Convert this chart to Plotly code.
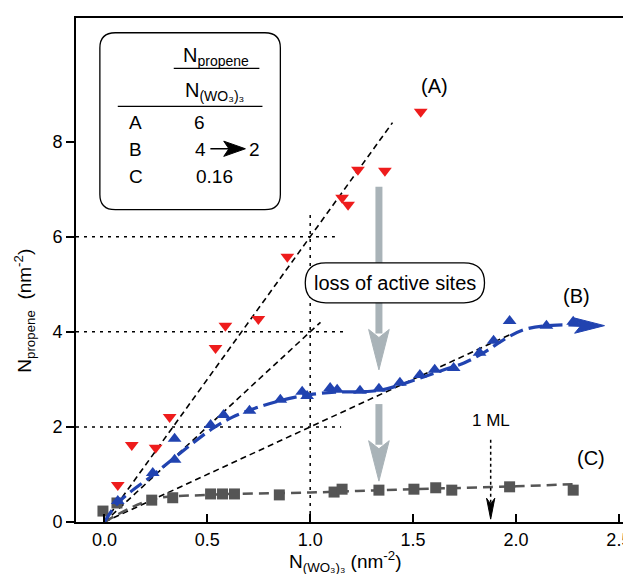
import plotly.graph_objects as go

# ---------------- data ----------------
A_x = [0.065, 0.133, 0.249, 0.317, 0.540, 0.588, 0.748, 0.889, 1.155, 1.184, 1.232, 1.363, 1.537]
A_y = [0.78, 1.62, 1.56, 2.21, 3.66, 4.13, 4.27, 5.58, 6.82, 6.67, 7.41, 7.39, 8.63]

B_x = [0.065, 0.235, 0.341, 0.341, 0.516, 0.579, 0.705, 0.855, 0.961, 0.985, 1.097, 1.131,
       1.242, 1.334, 1.436, 1.533, 1.605, 1.697, 1.823, 1.891, 1.969, 2.148, 2.278]
B_y = [0.44, 1.03, 1.31, 1.75, 2.04, 2.25, 2.34, 2.57, 2.74, 2.65, 2.82, 2.78,
       2.76, 2.80, 2.93, 3.09, 3.20, 3.24, 3.56, 3.81, 4.23, 4.13, 4.21]

C_x = [-0.007, 0.061, 0.230, 0.332, 0.516, 0.574, 0.632, 0.850, 1.116, 1.155, 1.334,
       1.504, 1.610, 1.688, 1.969, 2.278]
C_y = [0.23, 0.40, 0.46, 0.51, 0.59, 0.59, 0.59, 0.57, 0.63, 0.69, 0.67,
       0.69, 0.72, 0.67, 0.74, 0.67]

# guide curves (hand-drawn fits in the original)
B_fit_x = [0, 0.07, 0.24, 0.36, 0.52, 0.62, 0.75, 0.9, 1.0, 1.12, 1.25, 1.35, 1.45, 1.55,
           1.65, 1.75, 1.85, 1.95, 2.05, 2.2, 2.36]
B_fit_y = [0, 0.42, 1.0, 1.42, 1.95, 2.2, 2.42, 2.6, 2.68, 2.73, 2.74, 2.78, 2.9, 3.05,
           3.2, 3.35, 3.58, 3.86, 4.06, 4.14, 4.13]
C_fit_x = [0, 0.23, 0.5, 1.0, 1.5, 2.0, 2.3]
C_fit_y = [0, 0.47, 0.57, 0.62, 0.69, 0.75, 0.80]

# slope lines (N_propene / N_(WO3)3)
slopes = [6, 4, 2]
slope_x_end = [1.40, 1.05, 1.98]

# reference dotted lines
ref_y = [2, 4, 6]
ref_y_xend = [1.15, 1.18, 1.12]
ref_x = 1.0
ref_x_ytop = 6.55

x_ticks = [0.0, 0.5, 1.0, 1.5, 2.0, 2.5]
y_ticks = [0, 2, 4, 6, 8]

ML_x = 1.877
loss_x = 1.334

FONT = "Liberation Sans, Arial, sans-serif"
BLUE = "#2143b0"
RED = "#ee1c1c"
GRAY = "#555555"
LGRAY = "#a9b3b8"

fig = go.Figure()

# slope lines
for s, xe in zip(slopes, slope_x_end):
    fig.add_trace(go.Scatter(x=[0, xe], y=[0, s * xe], mode="lines",
                             line=dict(color="black", width=1.6, dash="6px,4px"),
                             hoverinfo="skip", showlegend=False))
# dotted reference lines
for yv, xe in zip(ref_y, ref_y_xend):
    fig.add_trace(go.Scatter(x=[-0.138, xe], y=[yv, yv], mode="lines",
                             line=dict(color="black", width=1.5, dash="3px,5px"),
                             hoverinfo="skip", showlegend=False))
fig.add_trace(go.Scatter(x=[ref_x, ref_x], y=[0, ref_x_ytop], mode="lines",
                         line=dict(color="black", width=1.5, dash="3px,5px"),
                         hoverinfo="skip", showlegend=False))

# C fit + points
fig.add_trace(go.Scatter(x=C_fit_x, y=C_fit_y, mode="lines", line_shape="spline",
                         line=dict(color=GRAY, width=2.5, dash="10px,6px"),
                         hoverinfo="skip", showlegend=False))
fig.add_trace(go.Scatter(x=C_x, y=C_y, mode="markers",
                         marker=dict(symbol="square", size=11, color=GRAY),
                         showlegend=False))
# B fit + points
fig.add_trace(go.Scatter(x=B_fit_x, y=B_fit_y, mode="lines", line_shape="spline",
                         line=dict(color=BLUE, width=3.2, dash="14px,6px"),
                         hoverinfo="skip", showlegend=False))
fig.add_trace(go.Scatter(x=B_x, y=B_y, mode="markers",
                         marker=dict(symbol="triangle-up", size=12, color=BLUE),
                         showlegend=False))
# A points
fig.add_trace(go.Scatter(x=A_x, y=A_y, mode="markers",
                         marker=dict(symbol="triangle-down", size=12, color=RED),
                         showlegend=False))

shapes = []

# blue arrow head at end of B curve
bx_tip, by_tip = 2.43, 4.13
shapes.append(dict(type="path", xref="x", yref="y",
                   path=f"M {bx_tip},{by_tip} L 2.285,{by_tip + 0.16} L 2.315,{by_tip} L 2.285,{by_tip - 0.16} Z",
                   fillcolor=BLUE, line=dict(color=BLUE, width=1)))

# gray "loss" arrows
for y0, y1 in [(7.05, 3.20), (2.48, 0.86)]:
    hl = 0.85
    shapes.append(dict(type="line", xref="x", yref="y", x0=loss_x, x1=loss_x, y0=y0, y1=y1 + hl * 0.9,
                       line=dict(color=LGRAY, width=7)))
    shapes.append(dict(type="path", xref="x", yref="y",
                       path=f"M {loss_x},{y1} L {loss_x - 0.05},{y1 + hl} L {loss_x},{y1 + hl * 0.8} L {loss_x + 0.05},{y1 + hl} Z",
                       fillcolor=LGRAY, line=dict(color=LGRAY, width=1)))

# 1 ML dotted arrow
shapes.append(dict(type="line", xref="x", yref="y", x0=ML_x, x1=ML_x, y0=1.73, y1=0.3,
                   line=dict(color="black", width=1.5, dash="3px,3px")))
shapes.append(dict(type="path", xref="x", yref="y",
                   path=f"M {ML_x},0.06 L {ML_x - 0.02},0.5 L {ML_x},0.38 L {ML_x + 0.02},0.5 Z",
                   fillcolor="black", line=dict(color="black", width=1)))

def rounded_rect(x0, x1, y0, y1, rx, ry):
    return (f"M {x0 + rx},{y1} L {x1 - rx},{y1} Q {x1},{y1} {x1},{y1 - ry} "
            f"L {x1},{y0 + ry} Q {x1},{y0} {x1 - rx},{y0} L {x0 + rx},{y0} "
            f"Q {x0},{y0} {x0},{y0 + ry} L {x0},{y1 - ry} Q {x0},{y1} {x0 + rx},{y1} Z")

# "loss of active sites" pill box
shapes.append(dict(type="path", xref="x", yref="y",
                   path=rounded_rect(0.976, 1.847, 4.61, 5.45, 0.10, 0.42),
                   fillcolor="white", line=dict(color="black", width=1.3)))

# table box
shapes.append(dict(type="path", xref="x", yref="y",
                   path=rounded_rect(-0.022, 0.855, 6.57, 10.29, 0.075, 0.32),
                   fillcolor="white", line=dict(color="black", width=1.3)))
shapes.append(dict(type="line", xref="x", yref="y", x0=0.337, x1=0.753, y0=9.54, y1=9.54,
                   line=dict(color="black", width=1.3)))
shapes.append(dict(type="line", xref="x", yref="y", x0=0.065, x1=0.768, y0=8.74, y1=8.74,
                   line=dict(color="black", width=1.3)))
# table arrow 4 -> 2
shapes.append(dict(type="line", xref="x", yref="y", x0=0.515, x1=0.62, y0=7.85, y1=7.85,
                   line=dict(color="black", width=1.5)))
shapes.append(dict(type="path", xref="x", yref="y",
                   path="M 0.685,7.85 L 0.58,8.01 L 0.605,7.85 L 0.58,7.69 Z",
                   fillcolor="black", line=dict(color="black", width=1)))

fig.update_layout(shapes=shapes)

def ann(x, y, text, size=16, xanchor="center"):
    fig.add_annotation(x=x, y=y, xref="x", yref="y", text=text, showarrow=False,
                       font=dict(family=FONT, size=size, color="black"), xanchor=xanchor)

ann(1.412, 5.03, "loss of active sites", 20)
ann(1.605, 9.18, "(A)", 20)
ann(2.293, 4.76, "(B)", 20)
ann(2.366, 1.35, "(C)", 20)
ann(1.877, 2.13, "1 ML", 17)

ann(0.541, 9.80, "N<sub>propene</sub>", 20)
ann(0.535, 9.05, "N<sub>(WO₃)₃</sub>", 20)
ann(0.153, 8.40, "A", 19)
ann(0.462, 8.40, "6", 19)
ann(0.153, 7.83, "B", 19)
ann(0.467, 7.83, "4", 19)
ann(0.729, 7.83, "2", 19)
ann(0.153, 7.26, "C", 19)
ann(0.535, 7.26, "0.16", 19)

# axis titles
fig.add_annotation(x=0.48, y=-0.048, xref="paper", yref="paper", yanchor="top", xanchor="center",
                   text="N<sub>(WO₃)₃</sub> (nm<sup>-2</sup>)", showarrow=False,
                   font=dict(family=FONT, size=19, color="black"))
fig.add_annotation(x=-0.092, y=0.42, xref="paper", yref="paper", textangle=-90,
                   xanchor="center", yanchor="middle",
                   text="N<sub>propene</sub>  (nm<sup>-2</sup>)", showarrow=False,
                   font=dict(family=FONT, size=19, color="black"))

fig.update_layout(
    width=631, height=574,
    margin=dict(l=68, r=0, t=10, b=60),
    paper_bgcolor="white", plot_bgcolor="white",
    font=dict(family=FONT, size=17, color="black"),
    showlegend=False,
    xaxis=dict(range=[-0.138, 2.588], tickvals=x_ticks, ticktext=[f"{v:.1f}" for v in x_ticks],
               ticks="inside", ticklen=8, tickwidth=1.5, tickcolor="black",
               showline=True, linecolor="black", linewidth=2, mirror=True,
               showgrid=False, zeroline=False,
               tickfont=dict(family=FONT, size=18)),
    yaxis=dict(range=[0, 10.6], tickvals=y_ticks,
               ticks="outside", ticklen=8, tickwidth=1.5, tickcolor="black",
               showline=True, linecolor="black", linewidth=2, mirror=True,
               showgrid=False, zeroline=False,
               tickfont=dict(family=FONT, size=18)),
)

fig.write_html("out.html")
